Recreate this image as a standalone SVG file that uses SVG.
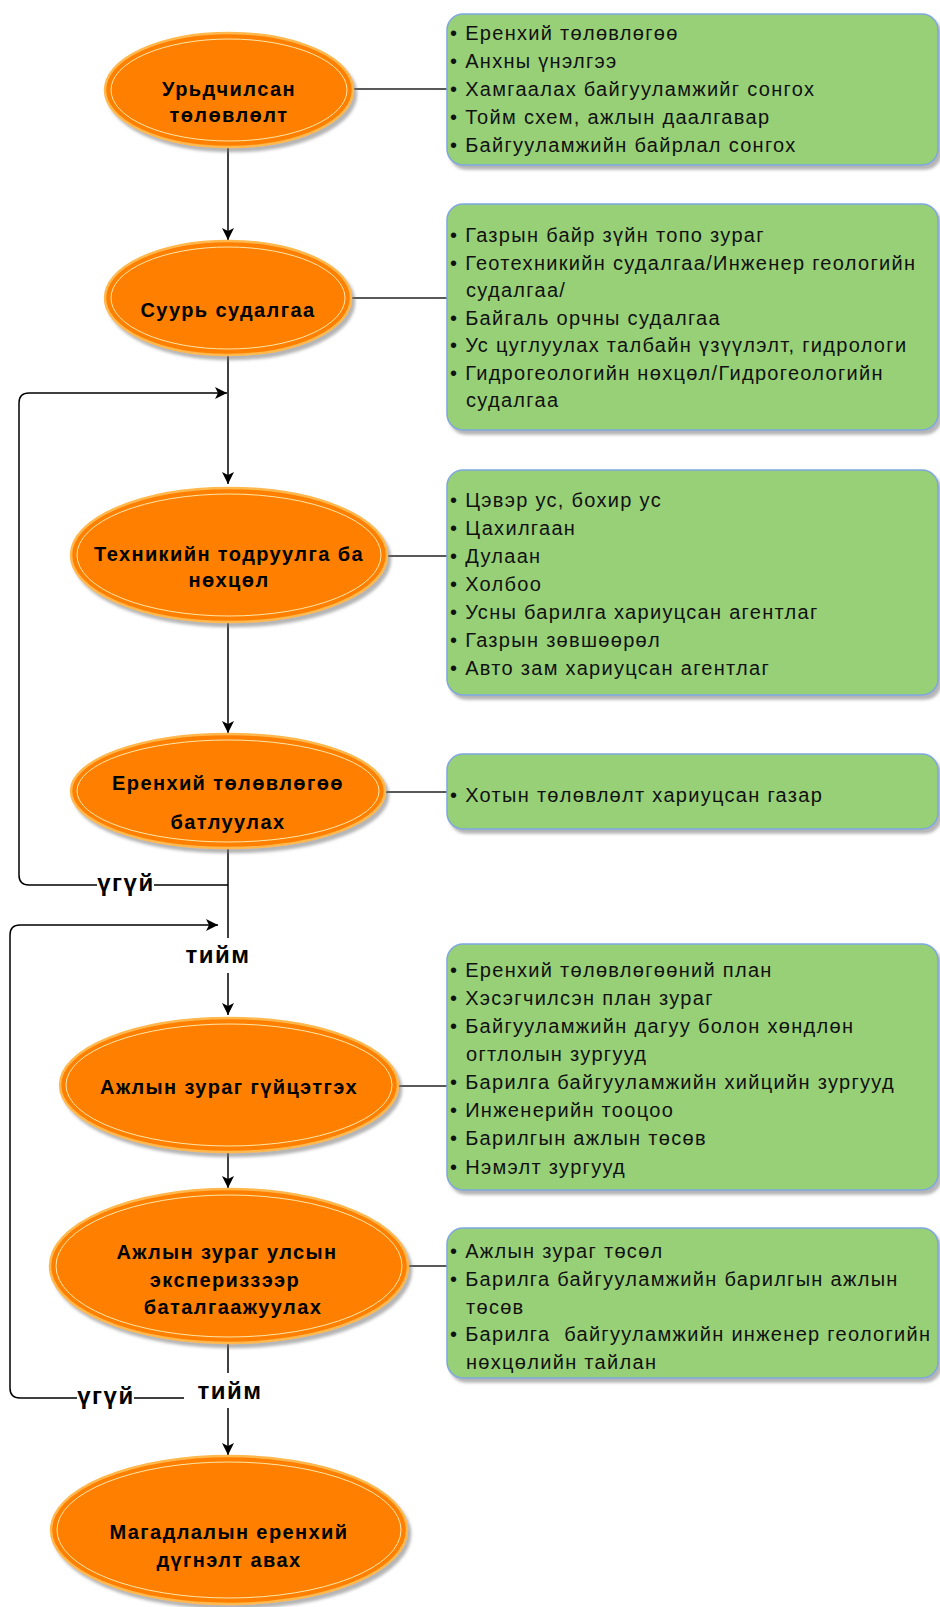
<svg xmlns="http://www.w3.org/2000/svg" width="940" height="1607" viewBox="0 0 940 1607">
<style>
.lbl{font-family:"Liberation Sans",Arial,sans-serif;font-size:20px;font-weight:bold;fill:#000;text-anchor:middle;letter-spacing:1.4px}
.itm{font-family:"Liberation Sans",Arial,sans-serif;font-size:20px;fill:#111;letter-spacing:1.3px}
.el{fill:#FF8000;stroke:#FFB84D;stroke-width:2.5}
.eli{fill:none;stroke:#FFE6A8;stroke-width:1}
.box{fill:#97D077;stroke:#7EA6E0;stroke-width:1.5}
.edge{fill:none;stroke:#000;stroke-width:1.5}
.side{fill:none;stroke:#222;stroke-width:1.3}
.yn{font-family:"Liberation Sans",Arial,sans-serif;font-size:24px;font-weight:bold;fill:#000;text-anchor:middle;letter-spacing:1.5px}
</style>
<defs>
<filter id="sh" x="-10%" y="-10%" width="125%" height="130%">
<feDropShadow dx="3" dy="4" stdDeviation="1.5" flood-color="#777" flood-opacity="0.55"/>
</filter>
<marker id="ar" markerUnits="userSpaceOnUse" markerWidth="14" markerHeight="14" refX="12" refY="6" orient="auto">
<path d="M0,0 L12,6 L0,12 L3,6 z" fill="#000"/>
</marker>
</defs>
<rect width="940" height="1607" fill="#fff"/>

<g id="connectors">
<path class="edge" d="M228,147 V240" marker-end="url(#ar)"/>
<path class="edge" d="M228,355 V484" marker-end="url(#ar)"/>
<path class="edge" d="M228,622 V733" marker-end="url(#ar)"/>
<path class="edge" d="M228,848 V1015" marker-end="url(#ar)"/>
<path class="edge" d="M228,1152 V1188" marker-end="url(#ar)"/>
<path class="edge" d="M228,1343 V1455" marker-end="url(#ar)"/>
<path class="edge" d="M228,885 H29 Q19,885 19,875 V403 Q19,393 29,393 H227" marker-end="url(#ar)"/>
<path class="edge" d="M228,1398 H20 Q10,1398 10,1388 V935 Q10,925 20,925 H218" marker-end="url(#ar)"/>
<path class="side" d="M354,89 H447"/>
<path class="side" d="M352,298 H447"/>
<path class="side" d="M387,556 H447"/>
<path class="side" d="M385,792 H447"/>
<path class="side" d="M398,1086 H447"/>
<path class="side" d="M408,1266 H447"/>
<rect x="97" y="876" width="57" height="20" fill="#fff"/>
<text class="yn" x="126" y="891">үгүй</text>
<rect x="181" y="938" width="72" height="35" fill="#fff"/>
<text class="yn" x="218" y="963">тийм</text>
<rect x="77" y="1389" width="57" height="20" fill="#fff"/>
<text class="yn" x="106" y="1404">үгүй</text>
<rect x="184" y="1373" width="90" height="35" fill="#fff"/>
<text class="yn" x="230" y="1399">тийм</text>
</g>

<g id="n1">
<ellipse class="el" cx="229" cy="90" rx="124" ry="57" filter="url(#sh)"/>
<ellipse class="eli" cx="229" cy="90" rx="118" ry="51"/>
<text class="lbl" x="229" y="96">Урьдчилсан</text>
<text class="lbl" x="229" y="122">төлөвлөлт</text>
</g>
<g id="b1">
<rect class="box" x="447" y="14" width="491" height="151" rx="16" filter="url(#sh)"/>
<text class="itm" x="450" y="40">• Еренхий төлөвлөгөө</text>
<text class="itm" x="450" y="68">• Анхны үнэлгээ</text>
<text class="itm" x="450" y="96">• Хамгаалах байгууламжийг сонгох</text>
<text class="itm" x="450" y="124">• Тойм схем, ажлын даалгавар</text>
<text class="itm" x="450" y="152">• Байгууламжийн байрлал сонгох</text>
</g>

<g id="n2">
<ellipse class="el" cx="228" cy="298" rx="123" ry="57" filter="url(#sh)"/>
<ellipse class="eli" cx="228" cy="298" rx="117" ry="51"/>
<text class="lbl" x="228" y="317">Суурь судалгаа</text>
</g>
<g id="b2">
<rect class="box" x="447" y="204" width="491" height="226" rx="16" filter="url(#sh)"/>
<text class="itm" x="450" y="242">• Газрын байр зүйн топо зураг</text>
<text class="itm" x="450" y="270">• Геотехникийн судалгаа/Инженер геологийн</text>
<text class="itm" x="466" y="297">судалгаа/</text>
<text class="itm" x="450" y="325">• Байгаль орчны судалгаа</text>
<text class="itm" x="450" y="352">• Ус цуглуулах талбайн үзүүлэлт, гидрологи</text>
<text class="itm" x="450" y="380">• Гидрогеологийн нөхцөл/Гидрогеологийн</text>
<text class="itm" x="466" y="407">судалгаа</text>
</g>

<g id="n3">
<ellipse class="el" cx="229" cy="555" rx="158" ry="67" filter="url(#sh)"/>
<ellipse class="eli" cx="229" cy="555" rx="152" ry="61"/>
<text class="lbl" x="229" y="561">Техникийн тодруулга ба</text>
<text class="lbl" x="229" y="587">нөхцөл</text>
</g>
<g id="b3">
<rect class="box" x="447" y="470" width="491" height="225" rx="16" filter="url(#sh)"/>
<text class="itm" x="450" y="507">• Цэвэр ус, бохир ус</text>
<text class="itm" x="450" y="535">• Цахилгаан</text>
<text class="itm" x="450" y="563">• Дулаан</text>
<text class="itm" x="450" y="591">• Холбоо</text>
<text class="itm" x="450" y="619">• Усны барилга хариуцсан агентлаг</text>
<text class="itm" x="450" y="647">• Газрын зөвшөөрөл</text>
<text class="itm" x="450" y="675">• Авто зам хариуцсан агентлаг</text>
</g>

<g id="n4">
<ellipse class="el" cx="228" cy="791" rx="157" ry="57" filter="url(#sh)"/>
<ellipse class="eli" cx="228" cy="791" rx="151" ry="51"/>
<text class="lbl" x="228" y="790">Еренхий төлөвлөгөө</text>
<text class="lbl" x="228" y="829">батлуулах</text>
</g>
<g id="b4">
<rect class="box" x="447" y="754" width="491" height="75" rx="16" filter="url(#sh)"/>
<text class="itm" x="450" y="802">• Хотын төлөвлөлт хариуцсан газар</text>
</g>

<g id="n5">
<ellipse class="el" cx="229" cy="1085" rx="169" ry="67" filter="url(#sh)"/>
<ellipse class="eli" cx="229" cy="1085" rx="163" ry="61"/>
<text class="lbl" x="229" y="1094">Ажлын зураг гүйцэтгэх</text>
</g>
<g id="b5">
<rect class="box" x="447" y="944" width="491" height="246" rx="16" filter="url(#sh)"/>
<text class="itm" x="450" y="977">• Еренхий төлөвлөгөөний план</text>
<text class="itm" x="450" y="1005">• Хэсэгчилсэн план зураг</text>
<text class="itm" x="450" y="1033">• Байгууламжийн дагуу болон хөндлөн</text>
<text class="itm" x="466" y="1061">огтлолын зургууд</text>
<text class="itm" x="450" y="1089">• Барилга байгууламжийн хийцийн зургууд</text>
<text class="itm" x="450" y="1117">• Инженерийн тооцоо</text>
<text class="itm" x="450" y="1145">• Барилгын ажлын төсөв</text>
<text class="itm" x="450" y="1174">• Нэмэлт зургууд</text>
</g>

<g id="n6">
<ellipse class="el" cx="229" cy="1266" rx="179" ry="77" filter="url(#sh)"/>
<ellipse class="eli" cx="229" cy="1266" rx="173" ry="71"/>
<text class="lbl" x="227" y="1259">Ажлын зураг улсын</text>
<text class="lbl" x="225" y="1287">экспериззээр</text>
<text class="lbl" x="233" y="1314">баталгаажуулах</text>
</g>
<g id="b6">
<rect class="box" x="447" y="1228" width="491" height="150" rx="16" filter="url(#sh)"/>
<text class="itm" x="450" y="1258">• Ажлын зураг төсөл</text>
<text class="itm" x="450" y="1286">• Барилга байгууламжийн барилгын ажлын</text>
<text class="itm" x="466" y="1314">төсөв</text>
<text class="itm" x="450" y="1341" xml:space="preserve">• Барилга  байгууламжийн инженер геологийн</text>
<text class="itm" x="466" y="1369">нөхцөлийн тайлан</text>
</g>

<g id="n7">
<ellipse class="el" cx="229" cy="1530" rx="178" ry="74" filter="url(#sh)"/>
<ellipse class="eli" cx="229" cy="1530" rx="172" ry="68"/>
<text class="lbl" x="229" y="1539">Магадлалын еренхий</text>
<text class="lbl" x="229" y="1567">дүгнэлт авах</text>
</g>
</svg>
